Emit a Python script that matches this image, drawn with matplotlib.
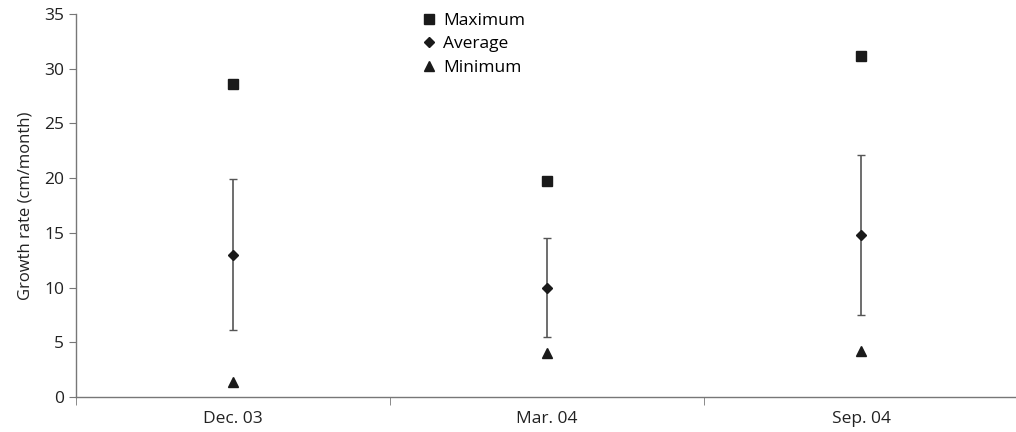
import matplotlib.pyplot as plt
from matplotlib.lines import Line2D

plt.rcParams['font.family'] = ['Open Sans', 'DejaVu Sans']

months = ["Dec. 03", "Mar. 04", "Sep. 04"]
maximum = [28.6, 19.7, 31.2]
average = [13.0, 10.0, 14.8]
minimum = [1.4, 4.0, 4.2]
sd = [6.9, 4.55, 7.35]

fig = plt.figure(figsize=(10.16, 4.32), dpi=100)
ax = fig.add_axes([76/1016, 1-397/432, 942/1016, 383/432])

x = range(len(months))
ax.errorbar(x, average, yerr=sd, fmt="none", ecolor="#555555", elinewidth=1.2,
            capsize=3, capthick=1)
ax.plot(x, maximum, "s", color="#1a1a1a", ms=7, ls="none")
ax.plot(x, average, "D", color="#1a1a1a", ms=5.5, ls="none")
ax.plot(x, minimum, "^", color="#1a1a1a", ms=7.5, ls="none")

ax.set_xlim(-0.5, 2.5)
ax.set_ylim(0, 35)
ax.set_yticks(range(0, 36, 5))
ax.set_xticks(list(x))
ax.set_xticklabels(months)
ax.set_xticks([-0.5, 0.5, 1.5, 2.5], minor=True)
ax.tick_params(axis="x", which="major", length=0, pad=10, labelsize=12.5, colors="#222222")
ax.tick_params(axis="x", which="minor", length=6, color="#777777")
ax.tick_params(axis="y", length=5, color="#777777", labelsize=12.5, labelcolor="#222222")
ax.set_ylabel("Growth rate (cm/month)", fontsize=12, color="#222222", labelpad=8)

for s in ["top", "right"]:
    ax.spines[s].set_visible(False)
for s in ["left", "bottom"]:
    ax.spines[s].set_color("#777777")
    ax.spines[s].set_linewidth(1)

handles = [
    Line2D([], [], marker="s", color="#1a1a1a", ms=6.5, ls="none"),
    Line2D([], [], marker="D", color="#1a1a1a", ms=5, ls="none"),
    Line2D([], [], marker="^", color="#1a1a1a", ms=7, ls="none"),
]
fig.legend(handles, ["Maximum", "Average", "Minimum"], loc="upper left",
           bbox_to_anchor=(412/1016, 1-4/432), frameon=False, fontsize=12.5,
           handlelength=1, handletextpad=0.3, labelspacing=0.42, borderpad=0)

fig.savefig("out.png", dpi=100)
